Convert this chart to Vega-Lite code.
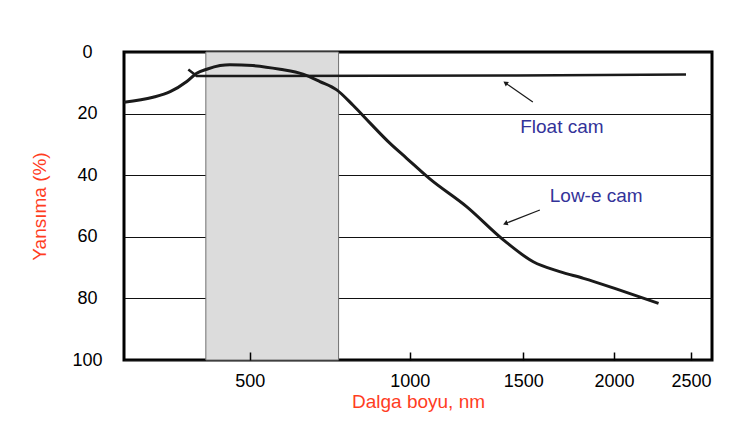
{
  "$schema": "https://vega.github.io/schema/vega-lite/v6.json",
  "width": 588,
  "height": 308,
  "autosize": "none",
  "padding": {"left": 124, "top": 52, "right": 22, "bottom": 79},
  "background": "white",
  "config": {
    "view": {"stroke": "black", "strokeWidth": 3},
    "font": "Liberation Sans",
    "axisX": {
      "domain": false, "grid": false,
      "labelFont": "Liberation Sans", "labelFontSize": 18, "labelColor": "black", "labelPadding": 20,
      "titleFont": "Liberation Sans", "titleFontSize": 19, "titleFontWeight": "normal", "titleColor": "#ff3d1f", "titlePadding": 2
    },
    "axisY": {
      "domain": false, "ticks": false, "grid": true, "gridColor": "#111111", "gridWidth": 1,
      "labelFont": "Liberation Sans", "labelFontSize": 18, "labelColor": "black", "labelAlign": "center", "labelPadding": 37,
      "titleFont": "Liberation Sans", "titleFontSize": 19, "titleFontWeight": "normal", "titleColor": "#ff3d1f", "titlePadding": 22,
      "zindex": 1
    }
  },
  "datasets": {
    "curves": [
      {"series": "Low-e cam", "nm": 250, "pct": 16.3},
      {"series": "Low-e cam", "nm": 298, "pct": 14.7},
      {"series": "Low-e cam", "nm": 329, "pct": 12.9},
      {"series": "Low-e cam", "nm": 361, "pct": 9.6},
      {"series": "Low-e cam", "nm": 381, "pct": 6.9},
      {"series": "Low-e cam", "nm": 402, "pct": 5.6},
      {"series": "Low-e cam", "nm": 431, "pct": 4.4},
      {"series": "Low-e cam", "nm": 453, "pct": 4.1},
      {"series": "Low-e cam", "nm": 508, "pct": 4.4},
      {"series": "Low-e cam", "nm": 578, "pct": 5.6},
      {"series": "Low-e cam", "nm": 642, "pct": 7.2},
      {"series": "Low-e cam", "nm": 692, "pct": 9.6},
      {"series": "Low-e cam", "nm": 744, "pct": 12.3},
      {"series": "Low-e cam", "nm": 797, "pct": 17.3},
      {"series": "Low-e cam", "nm": 855, "pct": 23.1},
      {"series": "Low-e cam", "nm": 925, "pct": 29.6},
      {"series": "Low-e cam", "nm": 988, "pct": 34.5},
      {"series": "Low-e cam", "nm": 1079, "pct": 41.2},
      {"series": "Low-e cam", "nm": 1234, "pct": 50.2},
      {"series": "Low-e cam", "nm": 1403, "pct": 61.0},
      {"series": "Low-e cam", "nm": 1551, "pct": 68.1},
      {"series": "Low-e cam", "nm": 1690, "pct": 71.3},
      {"series": "Low-e cam", "nm": 1822, "pct": 73.5},
      {"series": "Low-e cam", "nm": 2018, "pct": 77.0},
      {"series": "Low-e cam", "nm": 2281, "pct": 81.6},
      {"series": "Float cam", "nm": 364, "pct": 5.7},
      {"series": "Float cam", "nm": 381, "pct": 7.8},
      {"series": "Float cam", "nm": 1468, "pct": 7.6},
      {"series": "Float cam", "nm": 2466, "pct": 7.3}
    ],
    "band": [{"nm": 400, "nm2": 750}],
    "notes": [
      {"label": "Float cam", "nm": 1702, "pct": 24.4, "tail_nm": 1549, "tail_pct": 16.2, "head_nm": 1416, "head_pct": 10.2},
      {"label": "Low-e cam", "nm": 1895, "pct": 46.8, "tail_nm": 1585, "tail_pct": 51.3, "head_nm": 1416, "head_pct": 55.6}
    ]
  },
  "layer": [
    {
      "data": {"name": "band"},
      "mark": {"type": "rect", "fill": "#dcdcdc", "stroke": "#707070", "strokeWidth": 1},
      "encoding": {
        "x": {"field": "nm", "type": "quantitative", "scale": {"type": "pow", "exponent": 0.35, "domain": [250, 2650], "nice": false, "zero": false}, "title": "Dalga boyu, nm", "axis": {"values": [500, 1000, 1500, 2000, 2500], "format": "d", "ticks": true, "tickSize": -8, "tickColor": "black", "tickWidth": 1.5, "zindex": 2}},
        "x2": {"field": "nm2"}
      }
    },
    {
      "data": {"name": "curves"},
      "transform": [{"filter": "datum.series === 'Low-e cam'"}],
      "mark": {"type": "line", "color": "#1a1a1a", "strokeWidth": 3, "interpolate": "monotone"},
      "encoding": {
        "x": {"field": "nm", "type": "quantitative", "scale": {"type": "pow", "exponent": 0.35, "domain": [250, 2650], "nice": false, "zero": false}},
        "y": {"field": "pct", "type": "quantitative", "scale": {"domain": [0, 100], "reverse": true, "nice": false}, "title": "Yansıma (%)", "axis": {"values": [0, 20, 40, 60, 80, 100]}}
      }
    },
    {
      "data": {"name": "curves"},
      "transform": [{"filter": "datum.series === 'Float cam'"}],
      "mark": {"type": "line", "color": "#1a1a1a", "strokeWidth": 2.5},
      "encoding": {
        "x": {"field": "nm", "type": "quantitative"},
        "y": {"field": "pct", "type": "quantitative"}
      }
    },
    {
      "data": {"name": "notes"},
      "mark": {"type": "rule", "color": "#1a1a1a", "strokeWidth": 1.2},
      "encoding": {
        "x": {"field": "tail_nm", "type": "quantitative"},
        "y": {"field": "tail_pct", "type": "quantitative"},
        "x2": {"field": "head_nm"},
        "y2": {"field": "head_pct"}
      }
    },
    {
      "data": {"name": "notes"},
      "transform": [{"filter": "datum.label === 'Float cam'"}],
      "mark": {"type": "point", "shape": "triangle", "filled": true, "color": "#1a1a1a", "size": 30, "angle": 305, "opacity": 1},
      "encoding": {
        "x": {"field": "head_nm", "type": "quantitative"},
        "y": {"field": "head_pct", "type": "quantitative"}
      }
    },
    {
      "data": {"name": "notes"},
      "transform": [{"filter": "datum.label === 'Low-e cam'"}],
      "mark": {"type": "point", "shape": "triangle", "filled": true, "color": "#1a1a1a", "size": 30, "angle": 249, "opacity": 1},
      "encoding": {
        "x": {"field": "head_nm", "type": "quantitative"},
        "y": {"field": "head_pct", "type": "quantitative"}
      }
    },
    {
      "data": {"name": "notes"},
      "mark": {"type": "text", "color": "#333399", "font": "Liberation Sans", "fontSize": 19, "align": "center", "baseline": "middle"},
      "encoding": {
        "x": {"field": "nm", "type": "quantitative"},
        "y": {"field": "pct", "type": "quantitative"},
        "text": {"field": "label"}
      }
    }
  ]
}
